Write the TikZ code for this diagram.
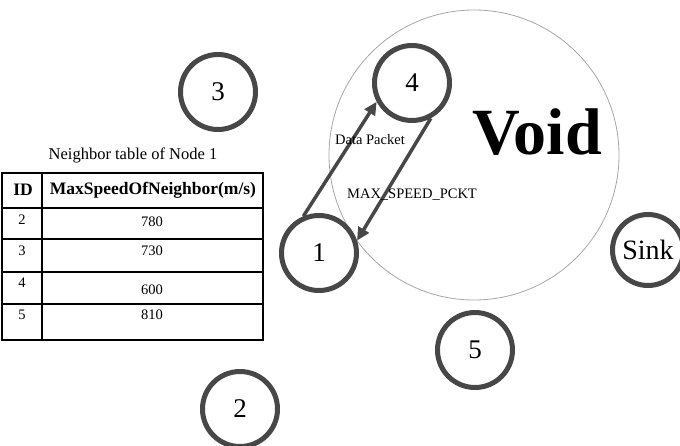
\documentclass[tikz,border=0pt]{standalone}
\usepackage{fontspec}
\setmainfont{Liberation Serif}
\usetikzlibrary{arrows.meta}
\definecolor{ring}{HTML}{474747}
\tikzset{
  sensor/.style={circle, draw=ring, line width=5pt, minimum size=75pt, inner sep=0pt, font=\fontsize{27}{30}\selectfont},
  msg/.style={draw=ring, line width=3.5pt, -{Triangle[length=13pt,width=12pt]}},
  lbl/.style={font=\fontsize{14.5}{16}\selectfont, inner sep=1pt},
  grid/.style={line width=1.4pt, black},
  cell/.style={font=\fontsize{14.5}{16}\selectfont, inner sep=0pt},
  head/.style={font=\bfseries\fontsize{17.5}{20}\selectfont, inner sep=0pt}
}
\begin{document}
\begin{tikzpicture}[x=1pt,y=-1pt]
\useasboundingbox (0,0) rectangle (680,445);
% void region
\node (voidarea) [circle, draw=gray!70, line width=0.8pt, minimum size=290pt, inner sep=0pt] at (474,155) {};
\node (voidtxt) [font=\bfseries\fontsize{66}{70}\selectfont, inner sep=0pt] at (537,132) {Void};
% sensor nodes
\node (n1) [sensor] at (319,253) {1};
\node (n2) [sensor] at (240,409) {2};
\node (n3) [sensor] at (218,92) {3};
\node (n4) [sensor] at (412,83) {4};
\node (n5) [sensor] at (475,350) {5};
\node (sink) [sensor, minimum size=71pt, font=\fontsize{28}{30}\selectfont] at (648,250) {Sink};
% messages
\draw[msg] (n1.113) -- (n4.208);
\draw[msg] (n4.-62) -- (n1.18);
\node (dp) [lbl] at (370,140) {Data Packet};
\node (msp) [lbl] at (412,195) {MAX\_SPEED\_PCKT};
% neighbor table
\node (ttl) [font=\fontsize{16.5}{18}\selectfont, inner sep=0pt] at (133,155) {Neighbor table of Node 1};
\draw[grid] (2,173) rectangle (263,340);
\draw[grid] (42,173) -- (42,340);
\foreach \yy in {208,239,272,304} { \draw[grid] (2,\yy) -- (263,\yy); }
\node (hid) [head] at (23,190) {ID};
\node (hms) [head] at (153,190) {MaxSpeedOfNeighbor(m/s)};
\node (r2a) [cell] at (22,220) {2};
\node (r2b) [cell] at (152,222) {780};
\node (r3a) [cell] at (22,251) {3};
\node (r3b) [cell] at (152,251) {730};
\node (r4a) [cell] at (22,283) {4};
\node (r4b) [cell] at (152,290) {600};
\node (r5a) [cell] at (22,315) {5};
\node (r5b) [cell] at (152,315) {810};
\end{tikzpicture}
\end{document}
